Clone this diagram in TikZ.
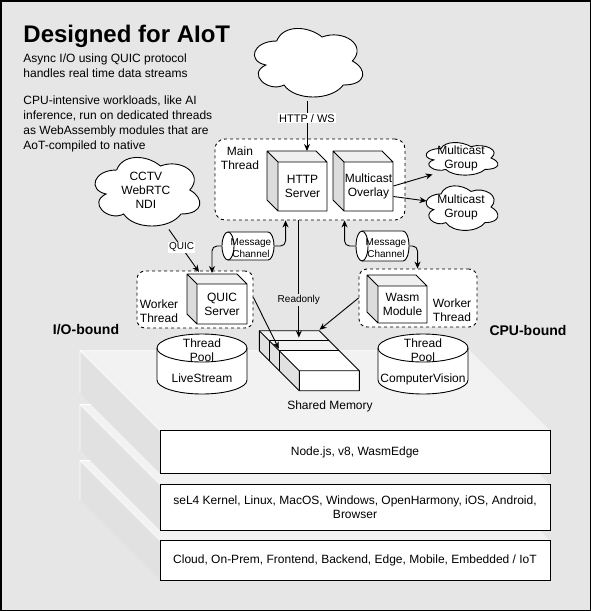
\documentclass[tikz,border=0pt]{standalone}
\usepackage{fontspec}
\setmainfont{Liberation Sans}
\usetikzlibrary{arrows.meta,calc}
\definecolor{bgc}{HTML}{E6E6E6}
\definecolor{topc}{HTML}{F2F2F2}
\definecolor{sidec}{HTML}{E1E1E1}
\definecolor{cubeside}{HTML}{DCDCDC}
\definecolor{cubetop}{HTML}{F0F0F0}
\tikzset{
  txt/.style={inner sep=0pt, align=center, font=\fontsize{12}{14}\selectfont},
  smalltxt/.style={inner sep=0pt, align=center, font=\fontsize{10}{12}\selectfont},
  linetxt/.style={anchor=base west, inner sep=0pt, font=\fontsize{12}{14}\selectfont},
  dbox/.style={draw, dash pattern=on 3pt off 3pt, rounded corners=10pt, fill=white, line width=0.9pt, inner sep=0pt},
  arr/.style={-{Stealth[length=7pt,width=6pt]}, line width=0.9pt},
  lbl/.style={fill=white, inner sep=1pt, font=\fontsize{10}{12}\selectfont},
  layerbox/.style={draw, fill=white, minimum width=390pt, inner sep=0pt, align=center, font=\fontsize{12}{14}\selectfont},
  hidden/.style={inner sep=0pt},
  boundlbl/.style={inner sep=0pt, font=\fontsize{14}{16}\selectfont\bfseries}
}
\newcommand\mxcloud[6]{%
  \begin{scope}[shift={(#2,#3)},x={(#4pt,0pt)},y={(0pt,-#5pt)}]
  \draw[fill=white,line width=0.9pt] (0.25,0.25) .. controls (0.05,0.25) and (0,0.5) .. (0.16,0.55) .. controls (0,0.66) and (0.18,0.9) .. (0.31,0.8) .. controls (0.4,1) and (0.7,1) .. (0.8,0.8) .. controls (1,0.8) and (1,0.6) .. (0.875,0.5) .. controls (1,0.3) and (0.8,0.1) .. (0.625,0.2) .. controls (0.5,0.05) and (0.3,0.05) .. (0.25,0.25) -- cycle;
  \end{scope}
  \node[txt, minimum width=#4pt, minimum height=#5pt] (#1) at ({#2+#4/2},{#3+#5/2}) {#6};
}
\newcommand\mxcube[7]{%
  \pgfmathsetmacro\cbxa{#2}\pgfmathsetmacro\cbya{#3}%
  \pgfmathsetmacro\cbxb{#2+#4}\pgfmathsetmacro\cbyb{#3+#5}%
  \pgfmathsetmacro\cbxd{#2+#6}\pgfmathsetmacro\cbyd{#3+#6}%
  \pgfmathsetmacro\cbxc{#2+#4-#6}\pgfmathsetmacro\cbyc{#3+#5-#6}%
  \fill[cubetop] (\cbxa,\cbya) -- (\cbxc,\cbya) -- (\cbxb,\cbyd) -- (\cbxd,\cbyd) -- cycle;
  \fill[cubeside] (\cbxa,\cbya) -- (\cbxd,\cbyd) -- (\cbxd,\cbyb) -- (\cbxa,\cbyc) -- cycle;
  \fill[white] (\cbxd,\cbyd) rectangle (\cbxb,\cbyb);
  \draw[line join=round] (\cbxa,\cbya) -- (\cbxc,\cbya) -- (\cbxb,\cbyd) -- (\cbxb,\cbyb) -- (\cbxd,\cbyb) -- (\cbxa,\cbyc) -- cycle (\cbxa,\cbya) -- (\cbxd,\cbyd) -- (\cbxb,\cbyd) (\cbxd,\cbyd) -- (\cbxd,\cbyb);
  \coordinate (#1-nw) at (\cbxa,\cbya);
  \node[txt, minimum width={(#4-#6)*1pt}, minimum height={(#5-#6)*1pt}] (#1) at ({(\cbxd+\cbxb)/2},{(\cbyd+\cbyb)/2}) {#7};
}
\newcommand\mxvcyl[5]{%
  \pgfmathsetmacro\cya{#1}\pgfmathsetmacro\cyb{#1+#3}\pgfmathsetmacro\cym{#1+#3/2}%
  \pgfmathsetmacro\cykx{0.5523*#3/2}\pgfmathsetmacro\cyky{0.5523*#5}%
  \pgfmathsetmacro\cyt{#2+#5}\pgfmathsetmacro\cybt{#2+#4-#5}%
  \pgfmathsetmacro\cytt{#2}\pgfmathsetmacro\cybb{#2+#4}%
  \draw[fill=white] (\cya,\cyt) -- (\cya,\cybt) .. controls (\cya,\cybt+\cyky) and (\cym-\cykx,\cybb) .. (\cym,\cybb) .. controls (\cym+\cykx,\cybb) and (\cyb,\cybt+\cyky) .. (\cyb,\cybt) -- (\cyb,\cyt) .. controls (\cyb,\cyt-\cyky) and (\cym+\cykx,\cytt) .. (\cym,\cytt) .. controls (\cym-\cykx,\cytt) and (\cya,\cyt-\cyky) .. (\cya,\cyt) -- cycle;
  \draw (\cya,\cyt) .. controls (\cya,\cyt+\cyky) and (\cym-\cykx,\cyt+#5) .. (\cym,\cyt+#5) .. controls (\cym+\cykx,\cyt+#5) and (\cyb,\cyt+\cyky) .. (\cyb,\cyt);
}
\newcommand\mxhcyl[5]{%
  \pgfmathsetmacro\hca{#1}\pgfmathsetmacro\hcb{#1+#3}%
  \pgfmathsetmacro\hcl{#1+#5}\pgfmathsetmacro\hcr{#1+#3-#5}\pgfmathsetmacro\hci{#1+2*#5}%
  \pgfmathsetmacro\hct{#2}\pgfmathsetmacro\hcbo{#2+#4}\pgfmathsetmacro\hcm{#2+#4/2}%
  \pgfmathsetmacro\hckx{0.5523*#5}\pgfmathsetmacro\hcky{0.5523*#4/2}%
  \draw[fill=white] (\hcl,\hct) -- (\hcr,\hct) .. controls (\hcr+\hckx,\hct) and (\hcb,\hcm-\hcky) .. (\hcb,\hcm) .. controls (\hcb,\hcm+\hcky) and (\hcr+\hckx,\hcbo) .. (\hcr,\hcbo) -- (\hcl,\hcbo) .. controls (\hcl-\hckx,\hcbo) and (\hca,\hcm+\hcky) .. (\hca,\hcm) .. controls (\hca,\hcm-\hcky) and (\hcl-\hckx,\hct) .. (\hcl,\hct) -- cycle;
  \draw (\hcl,\hct) .. controls (\hcl+\hckx,\hct) and (\hci,\hcm-\hcky) .. (\hci,\hcm) .. controls (\hci,\hcm+\hcky) and (\hcl+\hckx,\hcbo) .. (\hcl,\hcbo);
}
\newcommand\mxlayer[4]{%
  \pgfmathsetmacro\lyf{#1+80}\pgfmathsetmacro\lybb{#2-80}%
  \fill[sidec] (80,#1) -- (160,\lyf) -- (160,#2) -- (80,\lybb) -- cycle;
  \fill[topc] (80,#1) -- (470,#1) -- (550,\lyf) -- (160,\lyf) -- cycle;
  \draw[white, line width=0.6pt] (80,\lybb) -- (80,#1) -- (470,#1) (80,#1) -- (160,\lyf);
  \node[layerbox, minimum height={(#2-\lyf)*1pt}] (#3) at (355,{(\lyf+#2)/2}) {#4};
}
\begin{document}
\begin{tikzpicture}[x=1pt,y=-1pt,line width=0.9pt]
\useasboundingbox (0,0) rectangle (591,611);
\draw[line width=1.5pt, fill=bgc] (0.75,0.75) rectangle (590.25,610.25);

% platform layers
\mxlayer{460.5}{580}{l3}{Cloud, On-Prem, Frontend, Backend, Edge, Mobile, Embedded / IoT}
\mxlayer{404.5}{530}{l2}{seL4 Kernel, Linux, MacOS, Windows, OpenHarmony, iOS, Android,\\Browser}
\mxlayer{350.7}{473.3}{l1}{Node.js, v8, WasmEdge}

% title and description
\node[anchor=base west, inner sep=0pt, font=\fontsize{24}{28}\selectfont\bfseries] (title) at (23,42) {Designed for AIoT};
\node[linetxt] (t1) at (23,62) {Async I/O using QUIC protocol};
\node[linetxt] (t2) at (23,77) {handles real time data streams};
\node[linetxt] (t3) at (23,104) {CPU-intensive workloads, like AI};
\node[linetxt] (t4) at (23,119) {inference, run on dedicated threads};
\node[linetxt] (t5) at (23,134) {as WebAssembly modules that are};
\node[linetxt] (t6) at (23,149) {AoT-compiled to native};

% clouds
\mxcloud{ctop}{246.5}{21}{121}{80}{}
\mxcloud{cctv}{87.4}{150}{117}{80}{CCTV\\WebRTC\\NDI}
\mxcloud{mg1}{421}{139}{80}{38}{Multicast\\Group}
\mxcloud{mg2}{421}{181}{80}{52}{Multicast\\Group}

% main thread
\node[dbox, minimum width=190pt, minimum height=81pt] (main) at (310,179.5) {};
\node[txt] (mainlbl) at (240,158) {Main\\Thread};
\mxcube{http}{267}{151}{60}{60}{11}{HTTP\\Server}
\mxcube{mo}{333}{151}{60}{60}{11}{Multicast\\Overlay}

% worker threads
\node[dbox, rounded corners=8pt, minimum width=116pt, minimum height=57pt] (wl) at (195,299.5) {};
\node[txt] (wllbl) at (159,311) {Worker\\Thread};
\mxcube{qs}{187}{274}{60}{50}{10}{QUIC\\Server}
\node[dbox, rounded corners=8pt, minimum width=118pt, minimum height=58pt] (wr) at (418,298) {};
\node[txt] (wrlbl) at (452,310.5) {Worker\\Thread};
\mxcube{wm}{367}{275}{60}{48}{11}{Wasm\\Module}

% message channels
\mxhcyl{222}{232}{52}{28}{6}
\node[hidden, minimum width=52pt, minimum height=28pt] (mcl) at (248,246) {};
\node[smalltxt] (mcllbl) at (251,248.5) {Message\\Channel};
\mxhcyl{356}{231}{53}{30}{6}
\node[hidden, minimum width=53pt, minimum height=30pt] (mcr) at (382.5,246) {};
\node[smalltxt] (mcrlbl) at (386,248.5) {Message\\Channel};

% thread pools
\mxvcyl{157}{334}{90}{60}{14}
\node[hidden, minimum width=90pt, minimum height=60pt] (tp1) at (202,364) {};
\node[txt] (tp1lbl) at (202,360.5) {Thread\\Pool\\[7pt]LiveStream};
\mxvcyl{378}{334}{90}{60}{14}
\node[hidden, minimum width=90pt, minimum height=60pt] (tp2) at (423,364) {};
\node[txt] (tp2lbl) at (423,361.5) {Thread\\Pool\\[7pt]ComputerVision};

% shared memory
\fill[sidec] (259.3,330.7) -- (299.3,370.7) -- (299.3,390.7) -- (259.3,350.7) -- cycle;
\fill[topc] (259.3,330.7) -- (319.3,330.7) -- (339.3,350.7) -- (279.3,350.7) -- cycle;
\fill[white] (279.3,350.7) -- (339.3,350.7) -- (359.3,370.7) -- (299.3,370.7) -- cycle;
\fill[white] (299.3,370.7) rectangle (359.3,390.7);
\draw[line join=round] (259.3,330.7) -- (319.3,330.7) -- (359.3,370.7) -- (359.3,390.7) -- (299.3,390.7) -- (259.3,350.7) -- cycle;
\draw (259.3,330.7) -- (299.3,370.7) -- (359.3,370.7) (299.3,370.7) -- (299.3,390.7);
\draw (269.3,340.7) -- (329.3,340.7) (269.3,340.7) -- (269.3,360.7);
\draw (279.3,350.7) -- (339.3,350.7) (279.3,350.7) -- (279.3,370.7);
\node[hidden, minimum width=100pt, minimum height=60pt] (shm) at (309.3,360.7) {};
\node[txt] (shmlbl) at (330,406) {Shared Memory};

% bound labels
\node[boundlbl] (io) at (86,330) {I/O-bound};
\node[boundlbl] (cpu) at (528,330) {CPU-bound};

% connectors
\draw[arr] (ctop.south) -- node[lbl, pos=0.34, font=\fontsize{11}{13}\selectfont] {HTTP / WS} (ctop.south |- http-nw);
\draw[arr] ($(mo.east)+(0,-0.5)$) -- ($(mg1.south west)+(12,-3)$);
\draw[arr] ($(mo.east)+(0,10)$) -- ($(mg2.west)+(6,-6)$);
\draw[arr] ($(cctv.south)+(23,-1)$) -- node[lbl, pos=0.42] {QUIC} ($(qs-nw)+(12,-2)$);
\draw[arr, rounded corners=5pt] (mcl.west) -| ($(qs-nw)+(25,-1)$);
\draw[arr, rounded corners=5pt] (mcl.east) -| ($(main.south west)+(71,0)$);
\draw[arr, rounded corners=5pt] (mcr.west) -| ($(main.south west)+(130,0)$);
\draw[arr, rounded corners=5pt] (mcr.east) -| ($(wr.north west)+(59,0)$);
\draw[arr] ($(main.south west)+(84.3,0)$) -- node[lbl, fill=bgc, pos=0.68] {Readonly} ($(shm.north west)+(40,7.3)$);
\draw[arr] ($(wl.east)+(0,-2)$) -- ($(shm.north west)+(20,18.5)$);
\draw[arr] (wr.west) -- ($(shm.north west)+(60.7,-0.5)$);
\end{tikzpicture}
\end{document}
